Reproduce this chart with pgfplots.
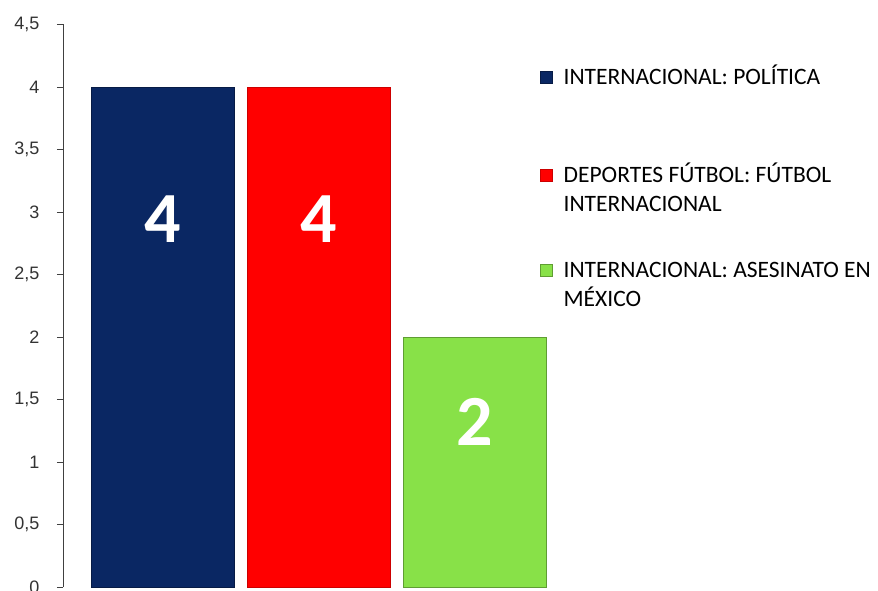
\documentclass[border=0pt]{standalone}
\usepackage{pgfplots}
\pgfplotsset{compat=1.18}
\usepackage{fontspec}
\setmainfont{Carlito}
\newfontfamily\arialfont{Liberation Sans}
\definecolor{cblue}{HTML}{0A2763}
\definecolor{cred}{HTML}{FF0000}
\definecolor{cgreen}{HTML}{88E148}
\pgfplotsset{sqlegend/.style={legend image code/.code={\fill[##1] (0pt,1pt) rectangle (12pt,13pt);}}}
\begin{document}
\begin{tikzpicture}
\begin{axis}[
  scale only axis, width=511.5pt, height=562.5pt,
  xmin=-0.636, xmax=2.636, ymin=0, ymax=4.5,
  axis x line=none, axis y line*=left,
  ytick={0,0.5,1,1.5,2,2.5,3,3.5,4,4.5},
  tick align=outside, major tick length=6pt,
  y axis line style={black!75, line width=0.9pt},
  every tick/.style={black!75, line width=0.9pt},
  /pgf/number format/use comma,
  /pgf/number format/assume math mode=true,
  yticklabel style={font=\arialfont\fontsize{18}{18}\selectfont, text=black!80, xshift=-14pt},
  ybar, bar width=143pt, bar shift=0pt,
  legend style={draw=none, fill=none, at={(0.9326,0.9303)}, anchor=north west,
    font=\fontsize{23.5}{29}\selectfont, row sep=74.7pt, column sep=11pt, inner sep=0pt,
    nodes={inner sep=0pt, anchor=base west, text depth=0pt}},
  legend cell align=left,
]
\addplot[fill=cblue, draw=cblue!70!black, sqlegend] coordinates {(0,4)};
\addlegendentry{\begin{tabular}[t]{@{}l@{}}INTERNACIONAL: POLÍTICA\end{tabular}}
\addplot[fill=cred, draw=cred!80!black, sqlegend] coordinates {(1,4)};
\addlegendentry{\begin{tabular}[t]{@{}l@{}}\rule{0pt}{23.3pt}DEPORTES FÚTBOL: FÚTBOL\\INTERNACIONAL\end{tabular}}
\addplot[fill=cgreen, draw=cgreen!70!black, sqlegend] coordinates {(2,2)};
\addlegendentry{\begin{tabular}[t]{@{}l@{}}INTERNACIONAL: ASESINATO EN\\MÉXICO\end{tabular}}
\node[font=\bfseries\fontsize{72}{72}\selectfont, text=white] at (axis cs:0,2.94) {4};
\node[font=\bfseries\fontsize{72}{72}\selectfont, text=white] at (axis cs:1,2.94) {4};
\node[font=\bfseries\fontsize{72}{72}\selectfont, text=white] at (axis cs:2,1.32) {2};
\end{axis}
\pgfresetboundingbox
\useasboundingbox (-63pt,-3pt) rectangle (815pt,587pt);
\end{tikzpicture}
\end{document}
